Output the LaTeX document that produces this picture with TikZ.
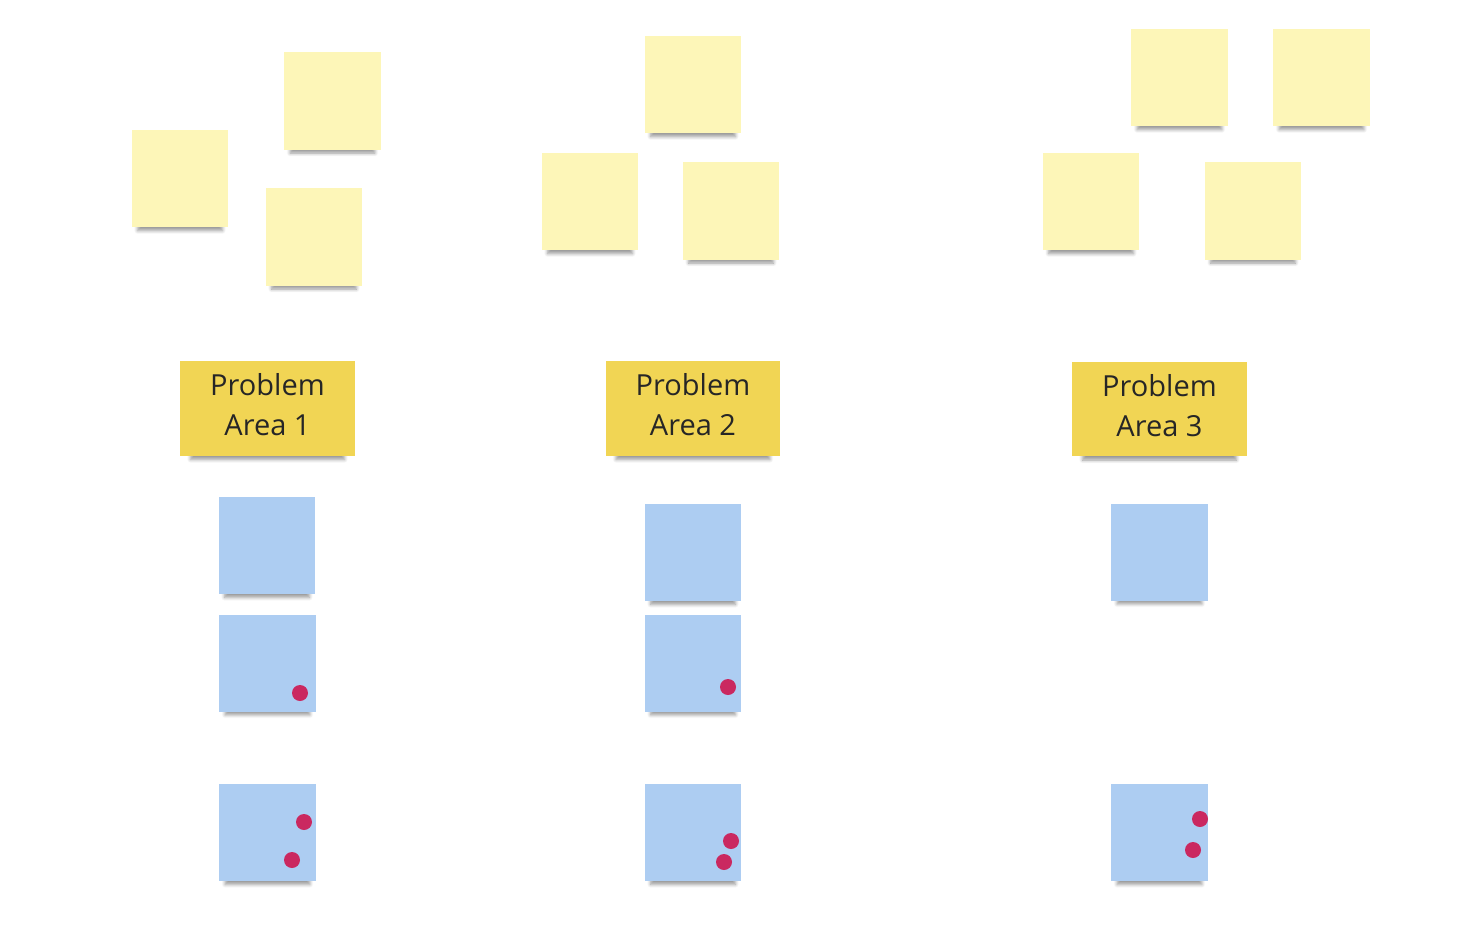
\documentclass[tikz,border=0pt]{standalone}
\usepackage{fontspec}
\setmainfont{Open Sans}
\usepackage{xcolor}
\usetikzlibrary{shadows.blur}
\definecolor{notelight}{RGB}{253,246,184}
\definecolor{noteheader}{RGB}{241,213,84}
\definecolor{noteblue}{RGB}{173,205,242}
\definecolor{votedot}{RGB}{202,40,96}

\begin{document}
\begin{tikzpicture}[x=0.02cm, y=-0.02cm]
% Define styles
\tikzstyle{sticky} = [rectangle, inner sep=0pt, blur shadow={shadow xshift=0pt, shadow yshift=-6pt, shadow scale=0.88, shadow blur steps=6, shadow opacity=40}]
\tikzstyle{idea} = [sticky, minimum width=1.93cm, minimum height=1.95cm, fill=notelight]
\tikzstyle{area} = [sticky, minimum width=3.5cm, minimum height=1.9cm, fill=noteheader, align=center, font=\fontsize{16.5}{22.7}\selectfont, text depth=4.5pt, text=black!85]
\tikzstyle{cause} = [sticky, minimum width=1.93cm, minimum height=1.94cm, fill=noteblue]
\tikzstyle{vote} = [circle, inner sep=0pt, minimum size=0.32cm, fill=votedot]

\useasboundingbox (0,0) rectangle (1458,944);

% Ideas
\node [idea] (idea1a) at (180,178.5) {};
\node [idea] (idea1b) at (332.5,101) {};
\node [idea] (idea1c) at (314,237) {};
\node [idea] (idea2a) at (693,84.5) {};
\node [idea] (idea2b) at (590,201.5) {};
\node [idea] (idea2c) at (731,211) {};
\node [idea] (idea3a) at (1179.5,77.5) {};
\node [idea] (idea3b) at (1321.5,77.5) {};
\node [idea] (idea3c) at (1091,201.5) {};
\node [idea] (idea3d) at (1253,211) {};

% Problem areas
\node [area] (area1) at (267.5,408.5) {Problem\\Area 1};
\node [area] (area2) at (693,408.5) {Problem\\Area 2};
\node [area] (area3) at (1159.5,409) {Problem\\Area 3};

% Causes
\node [cause] (cause1a) at (267,545.5) {};
\node [cause] (cause1b) at (267.5,663) {};
\node [cause] (cause1c) at (267.5,832.5) {};
\node [cause] (cause2a) at (693,552.5) {};
\node [cause] (cause2b) at (693,663) {};
\node [cause] (cause2c) at (693,832.5) {};
\node [cause] (cause3a) at (1159.5,552) {};
\node [cause] (cause3b) at (1159.5,832.5) {};

% Votes
\node [vote] (vote1a) at (300,693) {};
\node [vote] (vote1b) at (304,822) {};
\node [vote] (vote1c) at (292,860) {};
\node [vote] (vote2a) at (728,687) {};
\node [vote] (vote2b) at (731,841) {};
\node [vote] (vote2c) at (724,862) {};
\node [vote] (vote3a) at (1200,819) {};
\node [vote] (vote3b) at (1193,850) {};
\end{tikzpicture}
\end{document}
